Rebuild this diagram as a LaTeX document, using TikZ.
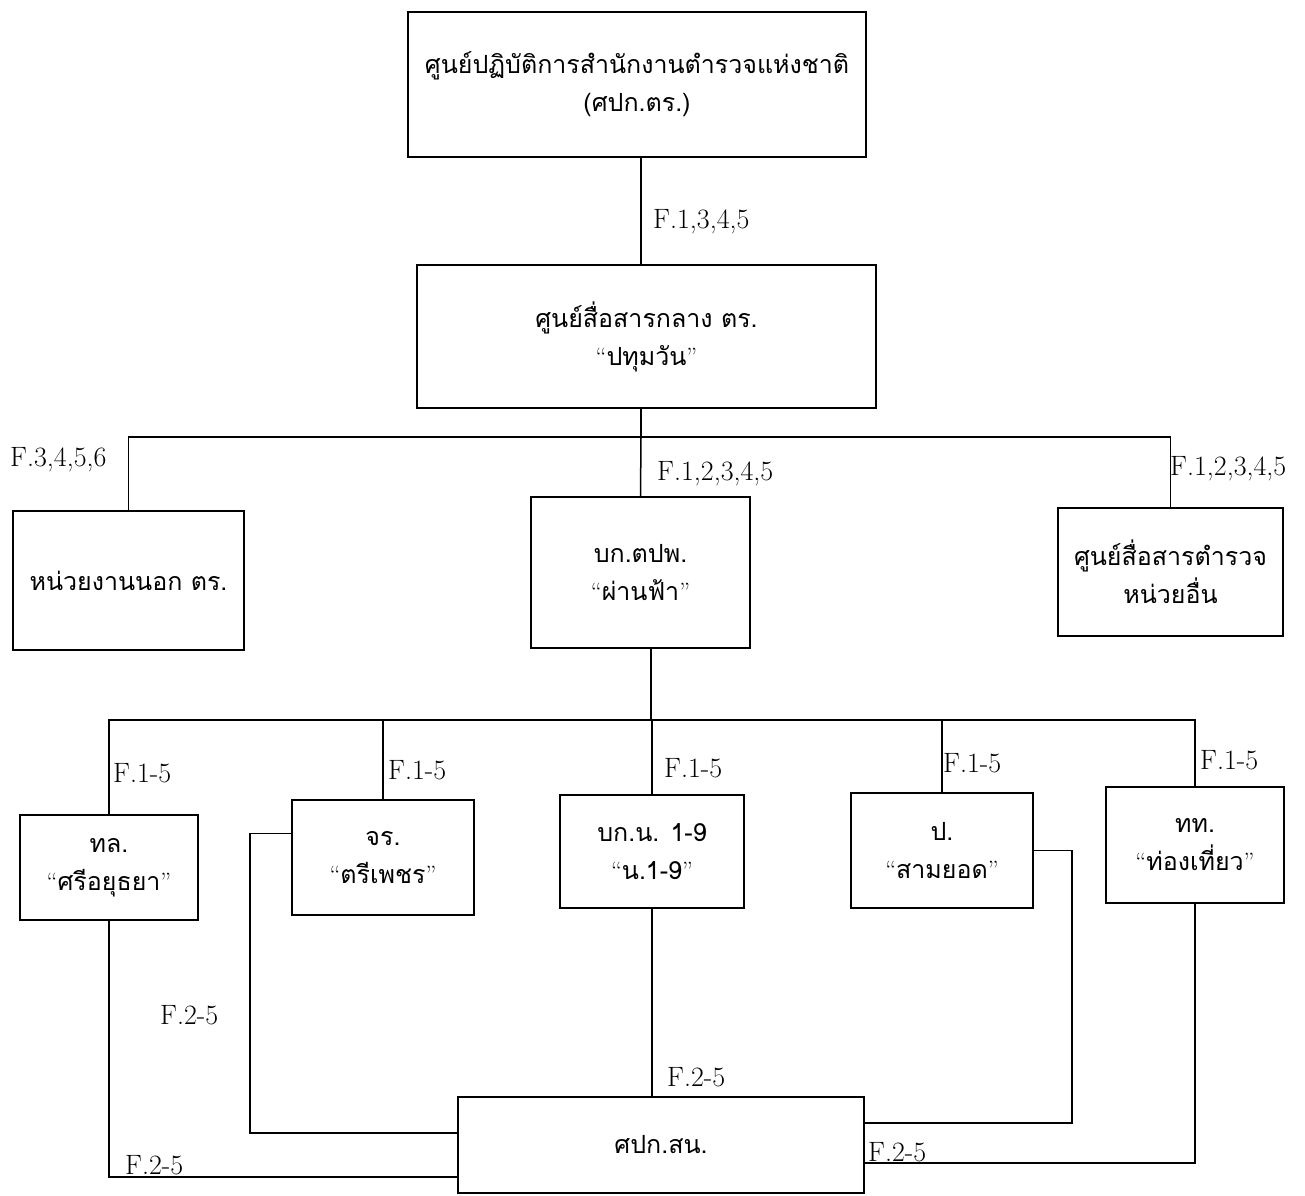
\documentclass[tikz,border=0pt]{standalone}
\usepackage{fontspec}
\newfontfamily\thaifont[Script=Thai]{Loma}
\newcommand\qo{{\rmfamily “}}
\newcommand\qc{{\rmfamily ”}}
\begin{document}
\begin{tikzpicture}[x=1pt,y=-1pt,
  box/.style={draw, line width=2pt, inner sep=0pt, align=center,
    font=\thaifont\fontsize{25}{38}\selectfont},
  conn/.style={line width=1.5pt},
  lab/.style={font=\fontsize{28}{30}\selectfont, inner sep=0pt, anchor=west}]
\useasboundingbox (0,0) rectangle (1305,1195);

% boxes
\node[box, minimum width=458pt, minimum height=145pt] (top) at (637,84.5)
  {ศูนย์ปฏิบัติการสำนักงานตำรวจแห่งชาติ\\(ศปก.ตร.)};
\node[box, minimum width=459pt, minimum height=143pt] (ctr) at (646.5,336.5)
  {ศูนย์สื่อสารกลาง ตร.\\\qo ปทุมวัน\qc};
\node[box, minimum width=231pt, minimum height=139pt] (out) at (128.5,580.5)
  {หน่วยงานนอก ตร.};
\node[box, minimum width=219pt, minimum height=151pt] (pf) at (640.5,572.5)
  {บก.ตปพ.\\\qo ผ่านฟ้า\qc};
\node[box, minimum width=225pt, minimum height=128pt] (oth) at (1170.5,572)
  {ศูนย์สื่อสารตำรวจ\\หน่วยอื่น};
\node[box, minimum width=178pt, minimum height=105pt] (tl) at (109,867.5)
  {ทล.\\\qo ศรีอยุธยา\qc};
\node[box, minimum width=182pt, minimum height=115pt] (jr) at (383,857.5)
  {จร.\\\qo ตรีเพชร\qc};
\node[box, minimum width=184pt, minimum height=113pt] (bkn) at (652,851.5)
  {บก.น. 1-9\\\qo น.1-9\qc};
\node[box, minimum width=182pt, minimum height=115pt] (p) at (942,850.5)
  {ป.\\\qo สามยอด\qc};
\node[box, minimum width=178pt, minimum height=116pt] (tt) at (1195,845)
  {ทท.\\\qo ท่องเที่ยว\qc};
\node[box, minimum width=406pt, minimum height=96pt] (sn) at (661,1145)
  {ศปก.สน.};

% helper coordinates
\coordinate (c1) at (641,0);
\coordinate (j1) at (641,437);
\coordinate (j2) at (651,720);
\coordinate (r1) at (0,1177);
\coordinate (r2) at (250,1133);
\coordinate (r4) at (1072,1123);
\coordinate (r5) at (0,1163);

% connectors
\draw[conn] (c1 |- top.south) -- (c1 |- ctr.north);
\draw[conn] (j1 |- ctr.south) -- (j1);
\draw[conn] (out.north) |- (j1) -| (oth.north);
\draw[conn] (j1) -- (pf.north);
\draw[conn] (j2 |- pf.south) -- (j2);
\draw[conn] (tl.north) |- (j2) -| (tt.north);
\draw[conn] (jr.north) -- (jr.north |- j2);
\draw[conn] (bkn.north) -- (bkn.north |- j2);
\draw[conn] (p.north) -- (p.north |- j2);
\draw[conn] (tl.south) |- (r1 -| sn.west);
\draw[conn] ([yshift=24pt]jr.west) -| (r2) -- (r2 -| sn.west);
\draw[conn] (bkn.south) -- (bkn.south |- sn.north);
\draw[conn] (p.east) -| (r4) -- (r4 -| sn.east);
\draw[conn] (tt.south) |- (r5 -| sn.east);

% labels
\node[lab] (l1) at (653,222) {F.1,3,4,5};
\node[lab] (l2) at (10,460) {F.3,4,5,6};
\node[lab] (l3) at (657,474) {F.1,2,3,4,5};
\node[lab] (l4) at (1170,469) {F.1,2,3,4,5};
\node[lab] (l5) at (113,773) {F.1-5};
\node[lab] (l6) at (388,770) {F.1-5};
\node[lab] (l7) at (664,768) {F.1-5};
\node[lab] (l8) at (943,763) {F.1-5};
\node[lab] (l9) at (1200,760) {F.1-5};
\node[lab] (l10) at (160,1015) {F.2-5};
\node[lab] (l11) at (667,1077) {F.2-5};
\node[lab] (l12) at (125,1165) {F.2-5};
\node[lab] (l13) at (868,1152) {F.2-5};
\end{tikzpicture}
\end{document}
